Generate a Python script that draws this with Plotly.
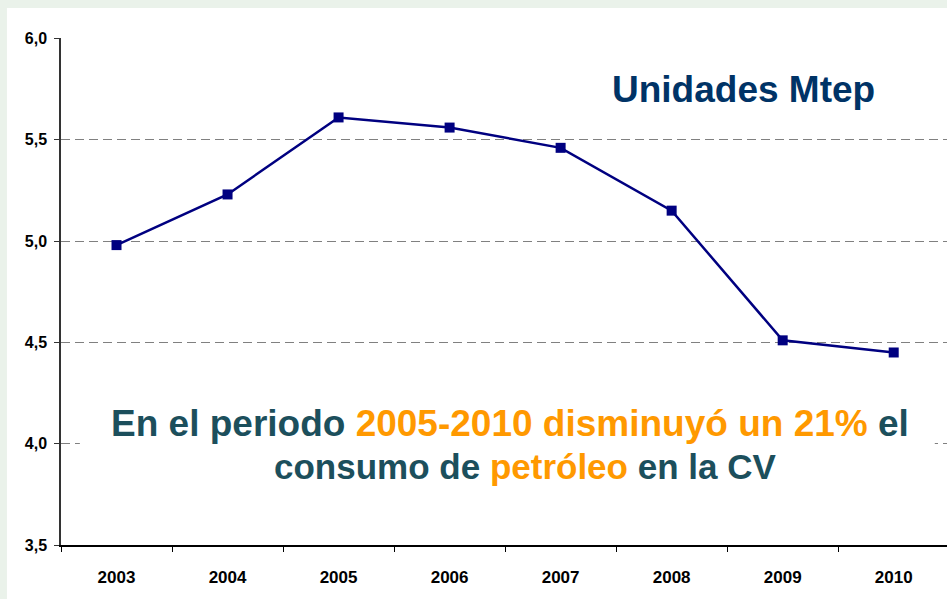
import plotly.graph_objects as go

# Consumo de petróleo en la CV (Mtep)
years = ["2003", "2004", "2005", "2006", "2007", "2008", "2009", "2010"]
consumo = [4.98, 5.23, 5.61, 5.56, 5.46, 5.15, 4.51, 4.45]
y_ticks = [3.5, 4.0, 4.5, 5.0, 5.5, 6.0]

TEAL = "#1C4F5C"
ORANGE = "#FF9900"
PAGE_GREEN = "#EAF2EA"
FONT = "Liberation Sans, Arial, sans-serif"

fig = go.Figure()
fig.add_trace(go.Scatter(
    x=years, y=consumo, mode="lines+markers",
    line=dict(color="#000080", width=2.5),
    marker=dict(symbol="square", size=10, color="#000080"),
    showlegend=False, hoverinfo="x+y",
))

# white slide panel over the pale green page (thin green strip top and left)
fig.add_shape(type="rect", xref="paper", yref="paper",
              x0=-0.061, x1=1.01, y0=-0.12, y1=1.059,
              fillcolor="white", line_width=0, layer="below")
# white box behind the message (hides the 4,0 gridline)
fig.add_shape(type="rect", xref="x", yref="y",
              x0=-0.33, x1=7.37, y0=3.79, y1=4.22,
              fillcolor="white", line_width=0, layer="between")

fig.add_annotation(
    x=5.65, y=5.75, xref="x", yref="y", showarrow=False,
    text="<b>Unidades Mtep</b>",
    font=dict(family=FONT, size=37, color="#003366"),
)
fig.add_annotation(
    x=3.545, y=4.1, xref="x", yref="y", showarrow=False,
    text=f"<b>En el periodo <span style='color:{ORANGE}'>2005-2010 disminuyó un 21%</span> el</b>",
    font=dict(family=FONT, size=37, color=TEAL),
)
fig.add_annotation(
    x=3.676, y=3.885, xref="x", yref="y", showarrow=False,
    text=f"<b>consumo de <span style='color:{ORANGE}'>petróleo</span> en la CV</b>",
    font=dict(family=FONT, size=35, color=TEAL),
)

fig.update_xaxes(
    type="category", range=[-0.5, 7.48],
    showline=True, linecolor="black", linewidth=1.5,
    ticks="outside", tickson="boundaries", ticklen=5, tickcolor="black",
    ticklabelstandoff=16,
    tickfont=dict(family=FONT, size=17, color="black", weight="bold"),
    showgrid=False, zeroline=False,
)
fig.update_yaxes(
    range=[3.5, 6.002], tickvals=y_ticks, tickformat=".1f",
    showline=True, linecolor="#333333", linewidth=1.5,
    ticks="outside", ticklen=5, tickcolor="#333333",
    ticklabelstandoff=4,
    tickfont=dict(family=FONT, size=16, color="black", weight="bold"),
    showgrid=True, gridcolor="#808080", gridwidth=1, griddash="9px,5px",
    zeroline=False,
)

fig.update_layout(
    width=947, height=599,
    margin=dict(l=61, r=0, t=38, b=54),
    paper_bgcolor=PAGE_GREEN, plot_bgcolor="white",
    separators=",.",
    font=dict(family=FONT),
)

# drop the default body margin so the figure fills the window
fig.write_html(
    "out.html",
    config={"displayModeBar": False},
    post_script="document.body.style.margin = '0'; document.body.style.overflow = 'hidden';",
)
